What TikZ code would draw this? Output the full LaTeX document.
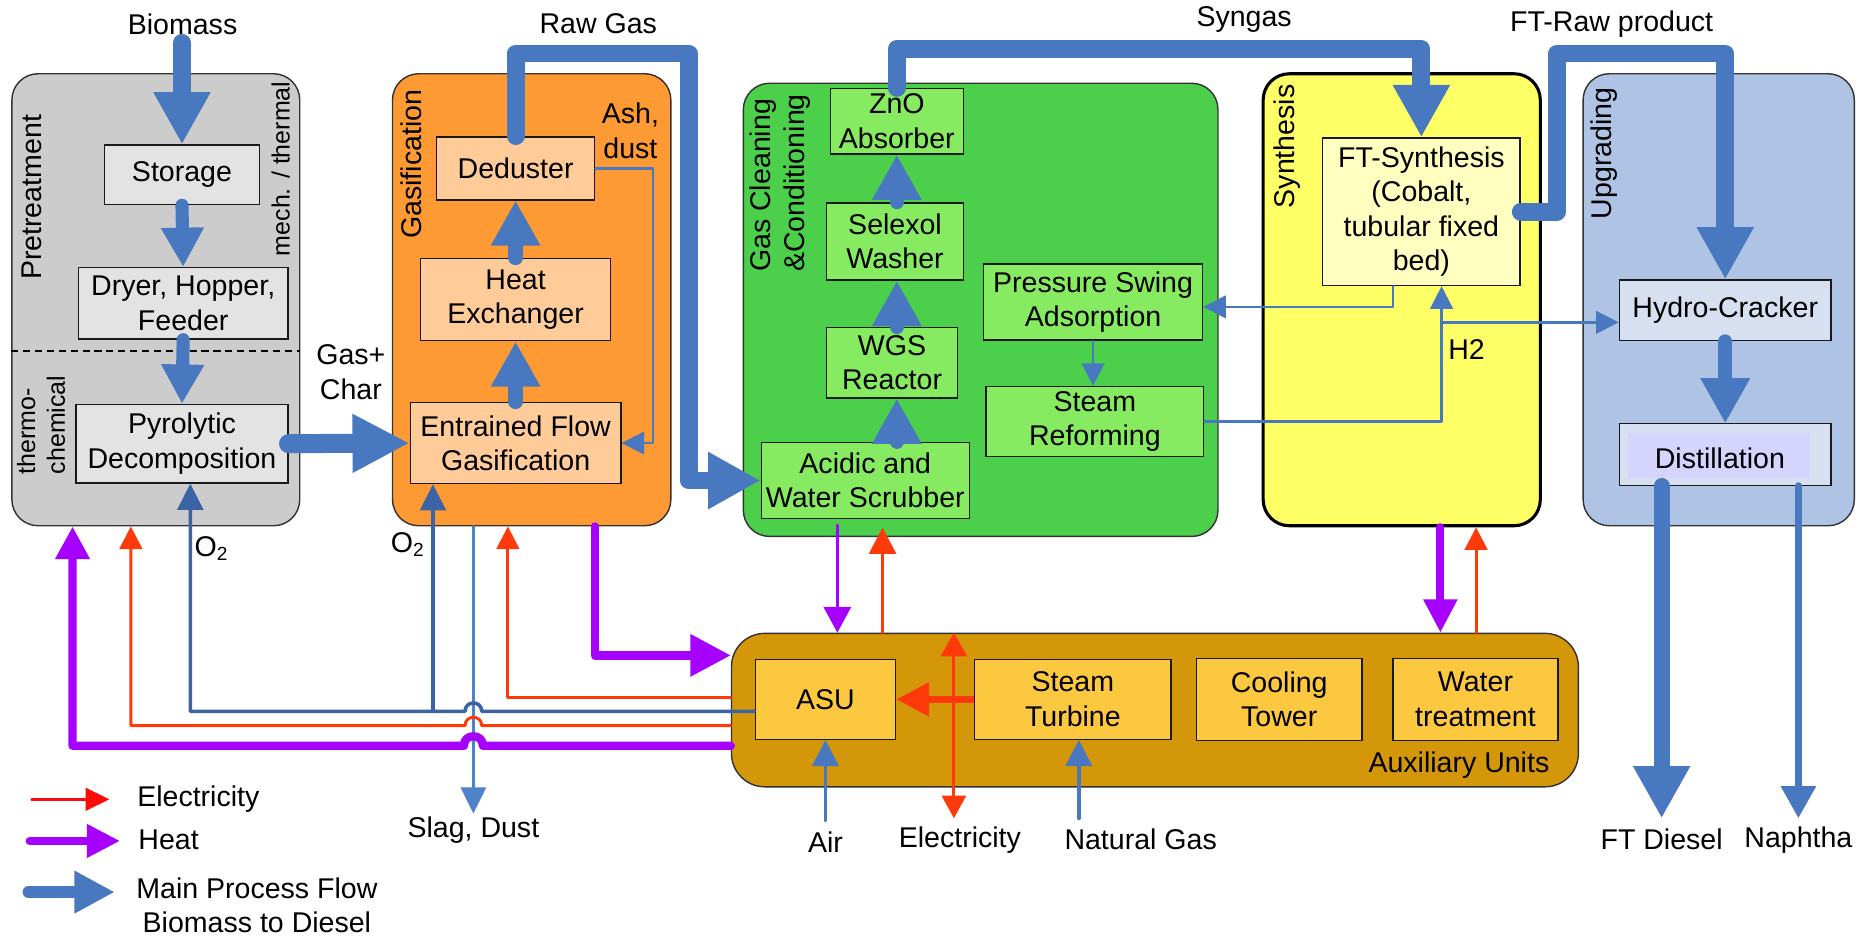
\documentclass[tikz,border=0pt]{standalone}
\usepackage{fontspec}
\setmainfont{Liberation Sans}
\usetikzlibrary{arrows.meta}
\definecolor{mainblue}{HTML}{4878BF}
\definecolor{o2blue}{HTML}{3C64A5}
\definecolor{slagblue}{HTML}{4F82C8}
\definecolor{elecred}{HTML}{FF3A0A}
\definecolor{purered}{HTML}{FF0A0A}
\definecolor{heatpurple}{HTML}{A600FF}
\definecolor{pregray}{HTML}{CCCCCC}
\definecolor{preboxgray}{HTML}{E3E3E3}
\definecolor{gasorange}{HTML}{FD9A33}
\definecolor{gasbox}{HTML}{FFCC99}
\definecolor{cleangreen}{HTML}{4CD04C}
\definecolor{cleanbox}{HTML}{86EB60}
\definecolor{synyellow}{HTML}{FFFF66}
\definecolor{synbox}{HTML}{FFFFBF}
\definecolor{upgblue}{HTML}{AFC4E4}
\definecolor{upgbox}{HTML}{D7E0F0}
\definecolor{distinner}{HTML}{D4D4FF}
\definecolor{auxgold}{HTML}{D4970A}
\definecolor{auxbox}{HTML}{FCC83F}
\begin{document}
\begin{tikzpicture}[x=0.5pt,y=-0.5pt,
  every node/.style={inner sep=0pt, align=center, font=\fontsize{12}{14.5}\selectfont},
  small/.style={font=\fontsize{10.5}{12.5}\selectfont},
  cont/.style n args={3}{draw=black!80, line width=0.6pt, rounded corners=11pt, fill=#3, minimum width=#1*0.5pt, minimum height=#2*0.5pt},
  bx/.style n args={3}{draw=black!90, line width=0.6pt, fill=#3, minimum width=#1*0.5pt, minimum height=#2*0.5pt},
  flow/.style n args={4}{draw=#4, line width=#1, line cap=round, line join=round, -{Triangle[width=#2,length=#3]}},
  bigflow/.style={flow={7.5pt}{22.5pt}{22pt}{mainblue}},
  gcflow/.style={flow={8pt}{23pt}{24pt}{mainblue}},
  midflow/.style={flow={6pt}{19.5pt}{19pt}{mainblue}},
  smallflow/.style={flow={5.5pt}{17pt}{16.5pt}{mainblue}},
  thinblue/.style={flow={1pt}{9.5pt}{9.5pt}{mainblue}},
  o2arrow/.style={flow={1.5pt}{10.75pt}{11pt}{o2blue}},
  redthin/.style={flow={1.25pt}{9.5pt}{9.5pt}{elecred}},
  heatthick/.style={flow={3.5pt}{13.75pt}{13.75pt}{heatpurple}},
]
\useasboundingbox (0,0) rectangle (1568,789);

% ---------- containers ----------
\node[cont={242}{380}{pregray}] (pre) at (131,252) {};
\node[cont={234}{380}{gasorange}] (gas) at (447,252) {};
\node[cont={399}{381}{cleangreen}] (clean) at (824.5,260.5) {};
\node[cont={233}{380}{synyellow}, draw=black, line width=1.3pt] (syn) at (1178.5,252) {};
\node[cont={228}{380}{upgblue}] (upg) at (1445,252) {};
\node[cont={712}{129}{auxgold}, rounded corners=14pt] (aux) at (971,597) {};

% ---------- container labels ----------
\node[rotate=90] (lpre) at (26.5,166) {Pretreatment};
\node[rotate=90, small] (lmech) at (236,142) {mech. / thermal};
\node[rotate=90, small, align=left, anchor=north west] (lthermo) at (14,399) {thermo-\\chemical};
\node[rotate=90] (lgas) at (346,138) {Gasification};
\node[rotate=90, align=left, anchor=north west] (lclean) at (630,229) {Gas Cleaning\\\&Conditioning};
\node[rotate=90] (lsyn) at (1082,123) {Synthesis};
\node[rotate=90] (lupg) at (1349,129) {Upgrading};
\node[anchor=east] (laux) at (1303,643) {Auxiliary Units};

\draw[line width=0.6pt, dash pattern=on 3pt off 2pt] (pre.west |- 0,295) -- (pre.east |- 0,295);

% ---------- boxes ----------
\node[bx={130}{50}{preboxgray}] (storage) at (153,147) {Storage};
\node[bx={176}{60}{preboxgray}] (dryer) at (154,255) {Dryer, Hopper,\\Feeder};
\node[bx={178}{66}{preboxgray}] (pyro) at (153,373) {Pyrolytic\\Decomposition};

\node[bx={133}{53}{gasbox}] (dedust) at (433.5,141.5) {Deduster};
\node[bx={160}{69}{gasbox}] (hx) at (433.5,252) {Heat\\Exchanger};
\node[bx={177}{68}{gasbox}] (ef) at (433.5,372.5) {Entrained Flow\\Gasification};

\node[bx={112}{55}{cleanbox}] (zno) at (754,102) {ZnO\\Absorber};
\node[bx={115}{65}{cleanbox}] (selexol) at (752.5,203) {Selexol\\Washer};
\node[bx={110}{59}{cleanbox}] (wgs) at (750,305) {WGS\\Reactor};
\node[bx={175}{64}{cleanbox}] (acid) at (727.5,404) {Acidic and\\Water Scrubber};
\node[bx={184}{64}{cleanbox}] (psa) at (919,254) {Pressure Swing\\Adsorption};
\node[bx={183}{59}{cleanbox}] (sr) at (920.5,354.5) {Steam\\Reforming};

\node[bx={166}{124}{synbox}] (ft) at (1195,178) {FT-Synthesis\\(Cobalt,\\tubular fixed\\bed)};

\node[bx={178}{51}{upgbox}] (hc) at (1450.5,261) {Hydro-Cracker};
\node[bx={178}{52}{upgbox}] (dist) at (1450.5,382) {};
\fill[distinner] (1369,364) rectangle (1522,402);
\node (ldist) at (1446,385) {Distillation};

\node[bx={118}{67}{auxbox}] (asu) at (694,588) {ASU};
\node[bx={165}{67}{auxbox}] (st) at (902,588) {Steam\\Turbine};
\node[bx={139}{69}{auxbox}] (ct) at (1075.5,588) {Cooling\\Tower};
\node[bx={139}{69}{auxbox}] (wt) at (1240.5,588) {Water\\treatment};

% ---------- free labels ----------
\node (lbio) at (153.5,20) {Biomass};
\node (lraw) at (503,20) {Raw Gas};
\node (lsyngas) at (1046,16) {Syngas};
\node (lftraw) at (1355,20) {FT-Raw product};
\node (lgaschar) at (295,313) {Gas+\\Char};
\node (lash) at (530,110) {Ash,\\dust};
\node (lh2) at (1233,294) {H2};
\node (lo2a) at (178,461) {O\textsubscript{2}};
\node (lo2b) at (343,458) {O\textsubscript{2}};
\node (lslag) at (398,698) {Slag, Dust};
\node (lair) at (694,708) {Air};
\node (lelec) at (807,706) {Electricity};
\node (lng) at (959,706) {Natural Gas};
\node (lftd) at (1397,706) {FT Diesel};
\node (lnap) at (1512,706) {Naphtha};

% ---------- main process flow ----------
\coordinate (biotop) at (153,36);
\draw[bigflow] (biotop) -- (storage.north);
\draw[smallflow] (storage.south) -- (dryer.north);
\draw[smallflow] (dryer.south) -- (pyro.north);
\draw[gcflow] (pyro.east) -- (ef.west);
\draw[midflow] (ef.north) -- (hx.south);
\draw[midflow] (hx.north) -- (dedust.south);
\draw[bigflow] (dedust.north) -- (dedust.north |- 0,45) -| (579,404) -- (acid.west);
\draw[thinblue] (dedust.east) -- (549,141.5) |- (ef.east);
\draw[midflow] (acid.north -| zno.center) -- (wgs.south -| zno.center);
\draw[midflow] (wgs.north -| zno.center) -- (selexol.south -| zno.center);
\draw[midflow] (selexol.north -| zno.center) -- (zno.south);
\draw[bigflow] (zno.north) -- (zno.north |- 0,41) -| (ft.north);
\draw[thinblue] (ft.south -| 1171,0) |- (psa.east |- 0,258);
\draw[thinblue] (psa.south -| 919,0) -- (sr.north -| 919,0);
\draw[thinblue] (sr.east) -| (ft.south -| 1212,0);
\coordinate (h2j) at (1212,271);
\draw[thinblue] (h2j) -- (hc.west |- h2j);
\draw[bigflow] (ft.east) -| (1309,45) -| (hc.north);
\draw[midflow] (hc.south) -- (dist.south |- 0,356);
\coordinate (ftdtip) at (1397,688);
\coordinate (naptip) at (1512,688);
\draw[flow={6.75pt}{22.5pt}{22pt}{mainblue}] (dist.south -| ftdtip) -- (ftdtip);
\draw[flow={3.2pt}{14pt}{13.5pt}{mainblue}] (dist.south -| naptip) -- (naptip);

% ---------- auxiliary connections ----------
\draw[flow={3pt}{13.75pt}{13.75pt}{elecred}, line cap=butt] (st.west) -- (asu.east);
\coordinate (ebot) at (802,688);
\draw[draw=elecred, line width=1.25pt, {Triangle[width=11pt,length=10pt]}-{Triangle[width=10pt,length=9.5pt]}] (aux.north -| ebot) -- (ebot);
\coordinate (airs) at (694,690);
\draw[flow={1.5pt}{11pt}{11pt}{mainblue}] (airs) -- (asu.south);
\coordinate (ngs) at (907,688);
\draw[flow={1.5pt}{11pt}{11pt}{mainblue}] (ngs) -- (st.south -| ngs);

\draw[flow={1.5pt}{11.3pt}{10.8pt}{heatpurple}, shorten <=-5pt] (clean.south -| 704,0) -- (aux.north -| 704,0);
\draw[flow={1.25pt}{11.3pt}{11pt}{elecred}, shorten >=-4pt] (aux.north -| 742,0) -- (clean.south -| 742,0);
\draw[flow={3.4pt}{13.5pt}{14pt}{heatpurple}] (syn.south -| 1211,0) -- (aux.north -| 1211,0);
\draw[redthin] (aux.north -| 1241,0) -- (syn.south -| 1241,0);

\draw[flow={3.5pt}{17pt}{17pt}{heatpurple}] (gas.south -| 500,0) -- (500,551) -- (aux.west |- 0,551);
\draw[redthin] (aux.west |- 0,586) -| (gas.south -| 427,0);
\draw[flow={1.25pt}{10.5pt}{11pt}{slagblue}] (gas.south -| 398,0) -- (398,684);

% O2 line with hop
\draw[o2arrow] (asu.west |- 0,598) -- (405,598) .. controls (405,588.7) and (391,588.7) .. (391,598) -- (160,598) -- (pyro.south -| 160,0);
\draw[o2arrow] (364,598) -- (ef.south -| 364,0);
% electricity to pretreatment with hop
\draw[redthin] (aux.west |- 0,610) -- (405,610) .. controls (405,600.7) and (391,600.7) .. (391,610) -- (110,610) -- (pre.south -| 110,0);
% heat to pretreatment with hop
\draw[flow={3.5pt}{13.75pt}{13.75pt}{heatpurple}] (aux.west |- 0,627) -- (406,627) .. controls (406,616.3) and (390,616.3) .. (390,627) -- (61,627) -- (pre.south -| 61,0);

% ---------- legend ----------
\coordinate (le1) at (26.6,672);
\coordinate (le2) at (92,672);
\draw[flow={1.1pt}{9.5pt}{10pt}{purered}] (le1) -- (le2);
\node[anchor=west] (lelegend) at (115,672) {Electricity};
\coordinate (lh1) at (25,707);
\coordinate (lh2e) at (101,707);
\draw[flow={3.5pt}{13.3pt}{14pt}{heatpurple}] (lh1) -- (lh2e);
\node[anchor=west] (lhlegend) at (116,706) {Heat};
\coordinate (lm1) at (24,750);
\coordinate (lm2) at (96.5,750);
\draw[flow={5pt}{16.8pt}{17pt}{mainblue}] (lm1) -- (lm2);
\node (lmlegend) at (216,761) {Main Process Flow\\Biomass to Diesel};
\end{tikzpicture}
\end{document}
